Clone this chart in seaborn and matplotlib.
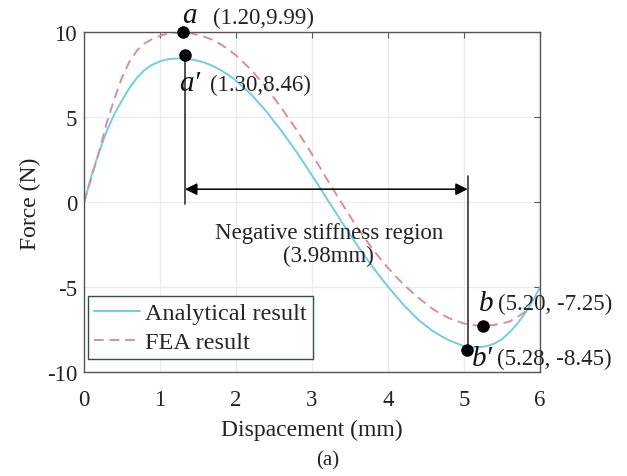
import pandas as pd
import matplotlib
matplotlib.use("Agg")
import matplotlib.pyplot as plt
import seaborn as sns

# Analytical result
disp_ana = [0.0, 0.1, 0.2, 0.3, 0.4, 0.5, 0.6, 0.7, 0.8, 0.9, 1.0, 1.1, 1.2, 1.3, 1.4,
            1.5, 1.6, 1.7, 1.8, 1.9, 2.0, 2.2, 2.4, 2.6, 2.8, 3.0, 3.2, 3.4, 3.6, 3.8,
            4.0, 4.2, 4.4, 4.6, 4.8, 5.0, 5.1, 5.2, 5.3, 5.4, 5.5, 5.6, 5.7, 5.8, 5.9, 6.0]
force_ana = [0.0, 1.6, 3.0, 4.2, 5.2, 6.0, 6.75, 7.35, 7.8, 8.1, 8.3, 8.42, 8.46, 8.46, 8.42,
             8.33, 8.2, 8.02, 7.78, 7.5, 7.17, 6.35, 5.35, 4.2, 2.95, 1.6, 0.2, -1.2, -2.55, -3.8,
             -4.95, -6.0, -6.9, -7.6, -8.1, -8.45, -8.52, -8.52, -8.45, -8.3, -8.05, -7.65, -7.15, -6.55, -5.85, -5.0]

# FEA result
disp_fea = [0.0, 0.1, 0.2, 0.3, 0.4, 0.5, 0.6, 0.7, 0.8, 0.9, 1.0, 1.1, 1.2, 1.3, 1.4,
            1.5, 1.6, 1.7, 1.8, 1.9, 2.0, 2.2, 2.4, 2.6, 2.8, 3.0, 3.2, 3.4, 3.6, 3.8,
            4.0, 4.2, 4.4, 4.6, 4.8, 5.0, 5.1, 5.2, 5.3, 5.4, 5.5, 5.6, 5.7, 5.8, 5.87]
force_fea = [0.0, 1.5, 3.0, 4.7, 6.1, 7.35, 8.3, 8.95, 9.35, 9.62, 9.8, 9.93, 9.99, 9.99, 9.95,
             9.85, 9.72, 9.55, 9.3, 9.0, 8.65, 7.8, 6.75, 5.55, 4.25, 2.85, 1.35, -0.1, -1.5, -2.75,
             -3.85, -4.8, -5.6, -6.3, -6.8, -7.12, -7.2, -7.25, -7.25, -7.2, -7.12, -7.0, -6.75, -6.45, -6.2]

# marked points
pt_names = ["a", "a′", "b", "b′"]
pt_x = [1.30, 1.33, 5.25, 5.04]
pt_y = [10.05, 8.66, -7.25, -8.65]
pt_text = ["(1.20,9.99)", "(1.30,8.46)", "(5.20, -7.25)", "(5.28, -8.45)"]

region_start = 1.33
region_end = 5.05

df_ana = pd.DataFrame({"x": disp_ana, "y": force_ana})
df_fea = pd.DataFrame({"x": disp_fea, "y": force_fea})

sns.set_style("whitegrid")
plt.rcParams["font.family"] = ["Liberation Serif", "DejaVu Serif"]
plt.rcParams["axes.unicode_minus"] = False

fig = plt.figure(figsize=(6.27, 4.77), dpi=100)
ax = fig.add_axes([0.134, 0.217, 0.727, 0.713])

sns.lineplot(data=df_ana, x="x", y="y", ax=ax, color="#72cddf", lw=1.4,
             label="Analytical result", sort=False)
sns.lineplot(data=df_fea, x="x", y="y", ax=ax, color="#da8e98", lw=1.4,
             linestyle=(0, (5, 3)), label="FEA result", sort=False)

ax.set_xlim(0, 6)
ax.set_ylim(-10, 10)
ax.set_xticks([0, 1, 2, 3, 4, 5, 6])
ax.set_yticks([-10, -5, 0, 5, 10])
ax.grid(True, color="#e8ecef", lw=0.9)
for s in ax.spines.values():
    s.set_color("#555555")
    s.set_linewidth(1.0)
ax.tick_params(direction="in", top=True, right=True, length=4, width=0.8,
               color="#555555", labelsize=16.5, labelcolor="#222222")
ax.tick_params(axis="x", pad=12)
ax.tick_params(axis="y", pad=5)
ax.set_xlabel("Dispacement (mm)", fontsize=17, labelpad=6, color="#222222")
ax.set_ylabel("Force (N)", fontsize=17, labelpad=4, color="#222222")

# vertical markers and double arrow
ax.plot([region_start, region_start], [pt_y[1], -0.1], color="#333333", lw=1.2)
ax.plot([region_end, region_end], [1.55, pt_y[3]], color="#333333", lw=1.2)
ax.annotate("", xy=(region_start, 0.78), xytext=(region_end, 0.78),
            arrowprops=dict(arrowstyle="<|-|>", color="black", lw=1.1,
                            mutation_scale=18, shrinkA=0, shrinkB=0))
ax.text(3.22, -2.45, "Negative stiffness region\n(3.98mm)", fontsize=16.5,
        ha="center", va="center", linespacing=1.1, color="#222222")

# points
ax.plot(pt_x, pt_y, "o", color="black", ms=8, zorder=5, clip_on=False)

name_pos = [(1.39, 11.05), (1.39, 7.0), (5.29, -5.9), (5.25, -9.15)]
text_pos = [(1.70, 10.85), (1.66, 6.95), (5.45, -5.95), (5.43, -9.15)]
for nm, (nx, ny), tx, (px, py) in zip(pt_names, name_pos, pt_text, text_pos):
    ax.text(nx, ny, nm, fontsize=21, style="italic", ha="center", va="center",
            color="#111111", clip_on=False)
    ax.text(px, py, tx, fontsize=16.5, ha="left", va="center",
            color="#222222", clip_on=False)

leg = ax.legend(loc="lower left", bbox_to_anchor=(0.009, 0.039), borderaxespad=0,
                fontsize=17.5, frameon=True, fancybox=False, handlelength=1.9,
                handletextpad=0.2, labelspacing=0.28, borderpad=0.25)
leg.get_frame().set_edgecolor("#2f4f4f")
leg.get_frame().set_linewidth(1.0)
leg.get_frame().set_alpha(1)

fig.text(0.523, 0.034, "(a)", fontsize=15, ha="center", va="center", color="#222222")

fig.savefig("out.png", dpi=100)
